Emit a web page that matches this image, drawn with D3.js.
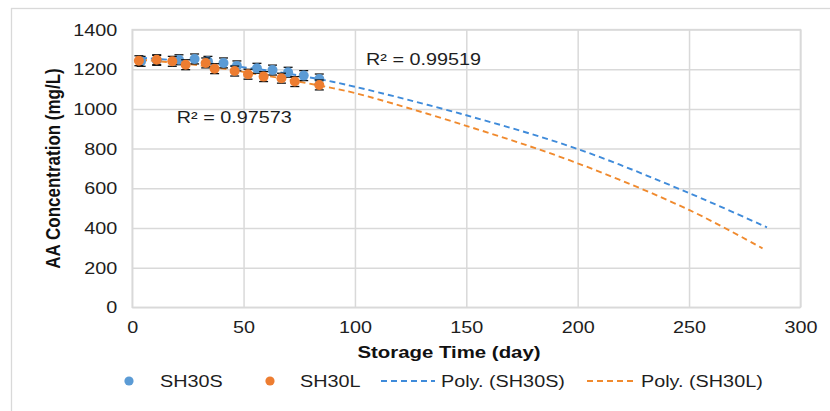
<!DOCTYPE html>
<html>
<head>
<meta charset="utf-8">
<script src="https://cdn.jsdelivr.net/npm/d3@7"></script>
<style>
  html, body { margin: 0; padding: 0; background: #fff; }
  svg { display: block; font-family: "Liberation Sans", Arial, sans-serif; }
</style>
</head>
<body>
<svg id="chart" width="830" height="411"></svg>
<script>
// ---------- data ----------
const seriesNames = ["SH30S", "SH30L"];
const daysSH30S = [4, 11, 21, 28, 34, 41, 47, 56, 63, 70, 77, 84];
const concSH30S = [1240, 1245, 1248, 1252, 1240, 1232, 1217, 1205, 1196, 1185, 1168, 1151];
const errSH30S  = [25, 25, 25, 25, 25, 25, 25, 25, 25, 25, 25, 25];
const daysSH30L = [3, 11, 18, 24, 33, 37, 46, 52, 59, 67, 73, 84];
const concSH30L = [1243, 1248, 1240, 1223, 1232, 1203, 1191, 1175, 1163, 1155, 1138, 1121];
const errSH30L  = [25, 25, 25, 25, 25, 25, 25, 25, 25, 25, 25, 25];
// polynomial trendlines
const trendDaysSH30S = [4, 30, 60, 84, 100, 150, 200, 250, 285];
const trendValsSH30S = [1258, 1235, 1195, 1150, 1112, 968, 798, 576, 403];
const trendDaysSH30L = [4, 30, 60, 84, 100, 150, 200, 250, 283];
const trendValsSH30L = [1248, 1220, 1168, 1118, 1080, 915, 726, 491, 297];
const r2Labels = ["R² = 0.99519", "R² = 0.97573"];
const r2Pos = [[105, 1250], [20, 960]]; // [day, conc] anchor (start of text)
const xTicks = [0, 50, 100, 150, 200, 250, 300];
const yTicks = [0, 200, 400, 600, 800, 1000, 1200, 1400];
const xTitle = "Storage Time (day)";
const yTitle = "AA Concentration (mg/L)";
const legendLabels = ["SH30S", "SH30L", "Poly. (SH30S)", "Poly. (SH30L)"];

// ---------- styles ----------
const blue = "#5B9BD5", orange = "#ED7D31";
const blueLine = "#3F8BDA", orangeLine = "#F08A2E";
const gridColor = "#d9d9d9";
const textColor = "#1e1e1e";
const SX = 1.2; // horizontal text stretch seen in the reference

const svg = d3.select("#chart");
const L = 132.2, R = 800.4, T = 29.6, B = 307.3;
const x = d3.scaleLinear().domain([0, 300]).range([L, R]);
const y = d3.scaleLinear().domain([0, 1400]).range([B, T]);

// outer chart border
svg.append("rect").attr("x", 11.5).attr("y", 8.5).attr("width", 900).attr("height", 500)
  .attr("fill", "none").attr("stroke", gridColor).attr("stroke-width", 1.3);

// gridlines + tick labels via axes
const yAxis = svg.append("g").attr("transform", `translate(${L},0)`)
  .call(d3.axisLeft(y).tickValues(yTicks).tickSize(-(R - L)).tickFormat(d3.format("d")));
yAxis.select(".domain").remove();
yAxis.selectAll("line").attr("stroke", gridColor).attr("stroke-width", 1.5);
yAxis.selectAll("text").attr("x", 0).attr("dy", "0.34em")
  .attr("transform", `translate(-15,0) scale(${SX},1)`)
  .attr("text-anchor", "end").attr("font-size", 16.5).attr("fill", textColor)
  .attr("font-family", "Liberation Sans, Arial, sans-serif");

const xAxis = svg.append("g").attr("transform", `translate(0,${B})`)
  .call(d3.axisBottom(x).tickValues(xTicks).tickSize(-(B - T)).tickFormat(d3.format("d")));
xAxis.select(".domain").remove();
xAxis.selectAll("line").attr("stroke", gridColor).attr("stroke-width", 1.5);
xAxis.selectAll("text").attr("y", 0).attr("dy", 0)
  .attr("transform", `translate(0,25.5) scale(${SX},1)`)
  .attr("text-anchor", "middle").attr("font-size", 16.5).attr("fill", textColor)
  .attr("font-family", "Liberation Sans, Arial, sans-serif");

// plot area border
svg.append("rect").attr("x", L).attr("y", T).attr("width", R - L).attr("height", B - T)
  .attr("fill", "none").attr("stroke", gridColor).attr("stroke-width", 1.5);

// axis titles
svg.append("text").attr("transform", `translate(449,352) scale(${SX},1)`)
  .attr("text-anchor", "middle").attr("dy", "0.35em")
  .attr("font-size", 17).attr("font-weight", "bold").attr("fill", "#111").text(xTitle);
svg.append("text").attr("transform", `translate(53,${(T + B) / 2}) scale(${SX},1) rotate(-90)`)
  .attr("text-anchor", "middle").attr("dy", "0.35em")
  .attr("font-size", 17).attr("font-weight", "bold").attr("fill", "#111").text(yTitle);

// trendlines
const line = d3.line().x(d => x(d[0])).y(d => y(d[1])).curve(d3.curveCatmullRom);
const trends = [
  [d3.zip(trendDaysSH30S, trendValsSH30S), blueLine],
  [d3.zip(trendDaysSH30L, trendValsSH30L), orangeLine]
];
trends.forEach(([pts, col]) => {
  svg.append("path").datum(pts).attr("d", line).attr("fill", "none")
    .attr("stroke", col).attr("stroke-width", 1.9).attr("stroke-dasharray", "6,4");
});

// series: markers with error bars
const series = [
  { days: daysSH30S, conc: concSH30S, err: errSH30S, color: blue },
  { days: daysSH30L, conc: concSH30L, err: errSH30L, color: orange }
];
series.forEach(s => {
  const g = svg.append("g");
  const pts = d3.range(s.days.length).map(i => ({ d: s.days[i], c: s.conc[i], e: s.err[i] }));
  const eb = g.selectAll("g.eb").data(pts).enter().append("g").attr("class", "eb")
    .attr("stroke", "#111").attr("stroke-width", 1.3);
  eb.append("line").attr("x1", p => x(p.d)).attr("x2", p => x(p.d))
    .attr("y1", p => y(p.c + p.e)).attr("y2", p => y(p.c - p.e));
  eb.append("line").attr("x1", p => x(p.d) - 4.5).attr("x2", p => x(p.d) + 4.5)
    .attr("y1", p => y(p.c + p.e)).attr("y2", p => y(p.c + p.e));
  eb.append("line").attr("x1", p => x(p.d) - 4.5).attr("x2", p => x(p.d) + 4.5)
    .attr("y1", p => y(p.c - p.e)).attr("y2", p => y(p.c - p.e));
  g.selectAll("circle").data(pts).enter().append("circle")
    .attr("cx", p => x(p.d)).attr("cy", p => y(p.c)).attr("r", 5).attr("fill", s.color);
});

// R² labels
r2Labels.forEach((t, i) => {
  svg.append("text").attr("transform", `translate(${x(r2Pos[i][0])},${y(r2Pos[i][1])}) scale(${SX},1)`)
    .attr("dy", "0.35em").attr("font-size", 16.5).attr("fill", textColor).text(t);
});

// legend
const ly = 381;
const lg = svg.append("g");
lg.append("circle").attr("cx", 129).attr("cy", ly).attr("r", 4.6).attr("fill", blue);
lg.append("circle").attr("cx", 270).attr("cy", ly).attr("r", 4.6).attr("fill", orange);
lg.append("line").attr("x1", 381).attr("x2", 435).attr("y1", ly).attr("y2", ly)
  .attr("stroke", blueLine).attr("stroke-width", 1.9).attr("stroke-dasharray", "6,4");
lg.append("line").attr("x1", 587).attr("x2", 635).attr("y1", ly).attr("y2", ly)
  .attr("stroke", orangeLine).attr("stroke-width", 1.9).attr("stroke-dasharray", "6,4");
const legX = [160, 300, 441, 641];
legendLabels.forEach((t, i) => {
  lg.append("text").attr("transform", `translate(${legX[i]},${ly}) scale(${SX},1)`)
    .attr("dy", "0.35em").attr("font-size", 16.5).attr("fill", textColor).text(t);
});
</script>
</body>
</html>
